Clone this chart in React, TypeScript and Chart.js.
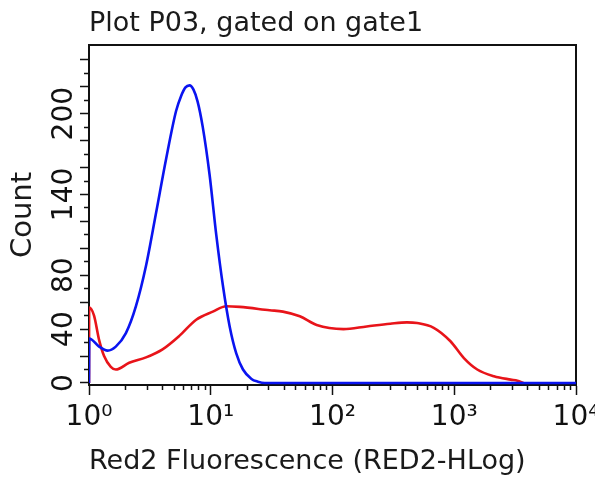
import React, { useEffect, useRef } from "react";
import { Chart, registerables } from "chart.js";

Chart.register(...registerables);

const TITLE = "Plot P03, gated on gate1";
const X_TITLE = "Red2 Fluorescence (RED2-HLog)";
const Y_TITLE = "Count";

const xMajorTicks = [1, 10, 100, 1000, 10000];
const xTickLabels = ["10⁰", "10¹", "10²", "10³", "10⁴"];
const xMinorTicks = [
  2, 3, 4, 5, 6, 7, 8, 9,
  20, 30, 40, 50, 60, 70, 80, 90,
  200, 300, 400, 500, 600, 700, 800, 900,
  2000, 3000, 4000, 5000, 6000, 7000, 8000, 9000,
];
const yMajorTicks = [0, 20, 40, 60, 80, 100, 120, 140, 160, 180, 200, 220, 240];
const yMinorTicks = [10, 30, 50, 70, 90, 110, 130, 150, 170, 190, 210, 230];
const yLabelValues = [0, 40, 80, 140, 200];

const blueX = [1, 1.005, 1.21, 1.42, 1.66, 2.01, 2.43, 2.94, 3.55, 4.29, 5.19, 5.7, 6.2, 6.7, 7.2, 7.8, 8.6, 9.77, 11.1, 12.6, 14.3, 16.2, 18.4, 21.6, 24.4, 27.7, 10000];
const blueY = [0, 33, 27, 24, 27, 37, 57, 87, 126, 166, 202, 213, 219.5, 221, 218, 209, 190, 155, 110, 72, 42, 22, 10, 3, 1, 0, 0];

const redX = [1, 1.003, 1.1, 1.21, 1.33, 1.51, 1.66, 2.14, 2.94, 4.02, 5.52, 7.59, 10.4, 13.4, 17.3, 30.5, 39.1, 53.9, 74.1, 123, 191, 298, 409, 495, 678, 931, 1200, 1545, 2119, 2910, 3304, 3700];
const redY = [0, 56, 50, 32, 20, 12, 10, 15, 19, 25, 35, 47, 53, 57, 56.5, 54, 53, 49.5, 43, 40, 42, 44, 45, 44.5, 41, 31, 18.5, 10, 5, 2.5, 1.7, 0];

const FONT = "'DejaVu Sans', Verdana, sans-serif";
const BLUE = "#0a14f0";
const RED = "#e8141a";

function zip(xs: number[], ys: number[]) {
  return xs.map((x, i) => ({ x, y: ys[i] }));
}

export default function App() {
  const ref = useRef<HTMLCanvasElement | null>(null);

  useEffect(() => {
    if (!ref.current) return;
    const Y_MIN = -1.5;
    const Y_MAX = 251;
    const chart = new Chart(ref.current, {
      type: "line",
      data: {
        datasets: [
          {
            label: "blue",
            data: zip(blueX, blueY),
            borderColor: BLUE,
            borderWidth: 2.6,
            pointRadius: 0,
            cubicInterpolationMode: "monotone",
            xAxisID: "x",
            yAxisID: "y",
          },
          {
            label: "red",
            data: zip(redX, redY),
            borderColor: RED,
            borderWidth: 2.6,
            pointRadius: 0,
            cubicInterpolationMode: "monotone",
            xAxisID: "x",
            yAxisID: "y",
          },
        ],
      },
      options: {
        responsive: false,
        animation: false,
        layout: { padding: { left: 0, right: 19, top: 0, bottom: 0 } },
        plugins: {
          legend: { display: false },
          tooltip: { enabled: false },
          title: {
            display: true,
            text: TITLE,
            align: "start",
            fullSize: false,
            color: "#1a1a1a",
            font: { family: FONT, size: 27, weight: "normal" },
            padding: { top: 8, bottom: 4.6 },
          },
        },
        scales: {
          x: {
            type: "logarithmic",
            position: "bottom",
            weight: 1,
            min: 1,
            max: 10000,
            afterBuildTicks: (s: any) => {
              s.ticks = xMajorTicks.map((v) => ({ value: v }));
            },
            afterFit: (s: any) => {
              s.height = 98;
              s.paddingLeft = 0;
              s.paddingRight = 0;
            },
            ticks: {
              autoSkip: false,
              maxRotation: 0,
              minRotation: 0,
              padding: 6,
              color: "#111",
              font: { family: FONT, size: 28 },
              callback: (v: any) => {
                const i = xMajorTicks.indexOf(Number(v));
                return i >= 0 ? xTickLabels[i] : "";
              },
            },
            grid: { drawOnChartArea: false, drawTicks: true, tickLength: 10, tickColor: "#111", tickWidth: 1.5 },
            border: { display: true, color: "#111", width: 2 },
            title: {
              display: true,
              text: X_TITLE,
              align: "start",
              color: "#1a1a1a",
              font: { family: FONT, size: 27 },
              padding: { top: 0, bottom: 5 },
            },
          },
          xMinor: {
            type: "logarithmic",
            position: "bottom",
            weight: 0,
            min: 1,
            max: 10000,
            afterBuildTicks: (s: any) => {
              s.ticks = xMinorTicks.map((v) => ({ value: v }));
            },
            afterFit: (s: any) => {
              s.height = 0;
              s.paddingLeft = 0;
              s.paddingRight = 0;
            },
            ticks: { display: false, autoSkip: false },
            grid: { drawOnChartArea: false, drawTicks: true, tickLength: 5, tickColor: "#111", tickWidth: 1.5 },
            border: { display: false },
          },
          xTop: {
            type: "linear",
            position: "top",
            weight: 0,
            afterFit: (s: any) => {
              s.height = 0;
              s.paddingLeft = 0;
              s.paddingRight = 0;
            },
            ticks: { display: false },
            grid: { drawOnChartArea: false, drawTicks: false },
            border: { display: true, color: "#111", width: 2 },
          },
          y: {
            type: "linear",
            position: "left",
            weight: 1,
            min: Y_MIN,
            max: Y_MAX,
            afterBuildTicks: (s: any) => {
              s.ticks = yMajorTicks.map((v) => ({ value: v }));
            },
            afterFit: (s: any) => {
              s.width = 89;
              s.paddingTop = 0;
              s.paddingBottom = 0;
            },
            ticks: {
              autoSkip: false,
              minRotation: 90,
              maxRotation: 90,
              crossAlign: "center",
              padding: -11,
              color: "#111",
              font: { family: FONT, size: 28 },
              callback: (v: any) => (yLabelValues.indexOf(Number(v)) >= 0 ? String(v) : ""),
            },
            grid: { drawOnChartArea: false, drawTicks: true, tickLength: 9, tickColor: "#111", tickWidth: 1.5 },
            border: { display: true, color: "#111", width: 2 },
            title: {
              display: true,
              text: Y_TITLE,
              color: "#1a1a1a",
              font: { family: FONT, size: 29 },
              padding: { top: 6, bottom: 0 },
            },
          },
          yMinor: {
            type: "linear",
            position: "left",
            weight: 0,
            min: Y_MIN,
            max: Y_MAX,
            afterBuildTicks: (s: any) => {
              s.ticks = yMinorTicks.map((v) => ({ value: v }));
            },
            afterFit: (s: any) => {
              s.width = 0;
              s.paddingTop = 0;
              s.paddingBottom = 0;
            },
            ticks: { display: false, autoSkip: false },
            grid: { drawOnChartArea: false, drawTicks: true, tickLength: 5, tickColor: "#111", tickWidth: 1.5 },
            border: { display: false },
          },
          yRight: {
            type: "linear",
            position: "right",
            weight: 0,
            afterFit: (s: any) => {
              s.width = 0;
              s.paddingTop = 0;
              s.paddingBottom = 0;
            },
            ticks: { display: false },
            grid: { drawOnChartArea: false, drawTicks: false },
            border: { display: true, color: "#111", width: 2 },
          },
        },
      },
    } as any);
    return () => chart.destroy();
  }, []);

  return (
    <div style={{ position: "fixed", left: 0, top: 0, width: 595, height: 483, background: "#fff" }}>
      <canvas ref={ref} width={595} height={483} style={{ display: "block" }} />
    </div>
  );
}
